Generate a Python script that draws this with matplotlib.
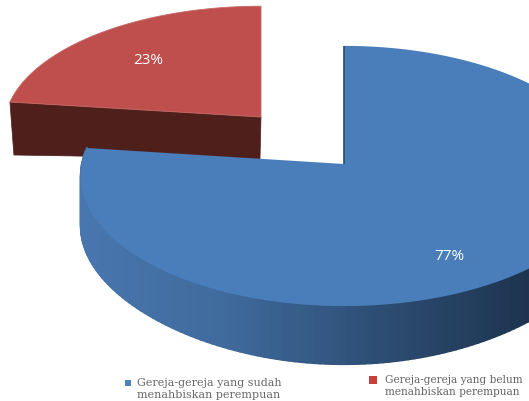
import numpy as np
import matplotlib
matplotlib.use('Agg')
import matplotlib.pyplot as plt
from matplotlib.colors import LinearSegmentedColormap
from matplotlib.collections import PolyCollection
from matplotlib.patches import Polygon

labels = ['Gereja-gereja yang sudah\nmenahbiskan perempuan',
          'Gereja-gereja yang belum\nmenahbiskan perempuan']
shares = [77, 23]
share_labels = ['77%', '23%']
top_colors = ['#4a7ebb', '#be4f4c']
marker_colors = ['#4f81bd', '#c8403a']

# fake perspective: the far side of the disc is squashed a little
TILT = 0.092


def project(theta, cx, cy, rx, ry):
    u = np.sin(theta)
    v = -np.cos(theta)
    s = 1 / (1 - TILT * v)
    return cx + rx * u * s, cy + ry * v * s, v


def slice_outline(start, stop, cx, cy, rx, ry):
    theta = np.radians(np.linspace(start, stop, 300))
    x, y, _ = project(theta, cx, cy, rx, ry)
    return np.column_stack([np.r_[cx, x], np.r_[cy, y]])


fig = plt.figure(figsize=(5.29, 4.02), dpi=100)
ax = fig.add_axes([0, 0, 1, 1])
ax.set_xlim(0, 529)
ax.set_ylim(402, 0)
ax.axis('off')

blue_deg = shares[0] / sum(shares) * 360

# red slice, pulled out to the upper left
red = slice_outline(blue_deg, 360, 261, 118, 256, 121)
red_side = np.array([red[0], red[1], red[1] + [4, 53], red[0] + [-1, 42]])
ax.add_patch(Polygon(red_side, closed=True, fc='#4f1f1c', ec='#4f1f1c', lw=0.5))
ax.add_patch(Polygon(red, closed=True, fc=top_colors[1], ec='#c96a66', lw=0.6))

# blue slice: outer wall shaded in strips from left to right
cx, cy, rx, ry = 344, 165, 262, 129
theta = np.radians(np.linspace(0, blue_deg, 220))
x, y, v = project(theta, cx, cy, rx, ry)
depth = 50 + 8 * np.clip(v, 0, 1) ** 4
wall_cmap = LinearSegmentedColormap.from_list(
    'wall', ['#4876ae', '#3f6a9c', '#2d4e74', '#1e3450'])
quads = []
shades = []
for i in range(len(theta) - 1):
    if v[i] < -0.3:
        continue
    quads.append([(x[i], y[i]), (x[i + 1], y[i + 1]),
                  (x[i + 1], y[i + 1] + depth[i + 1]), (x[i], y[i] + depth[i])])
    shades.append(wall_cmap((x[i] - 82) / 447))
ax.add_collection(PolyCollection(quads, facecolors=shades, edgecolors=shades, linewidths=1.5))

blue = slice_outline(0, blue_deg, cx, cy, rx, ry)
ax.add_patch(Polygon(blue, closed=True, fc=top_colors[0], ec='none'))
ax.plot([cx, blue[1, 0]], [cy, blue[1, 1]], color='#2b4a70', lw=1.2, solid_capstyle='butt')

ax.text(449, 256, share_labels[0], color='white', fontsize=11,
        family='Open Sans', ha='center', va='center')
ax.text(148, 60, share_labels[1], color='white', fontsize=11,
        family='Open Sans', ha='center', va='center')

# legend
ax.scatter([128], [384], marker='s', s=22, color=marker_colors[0], lw=0)
ax.text(137, 389, labels[0], fontsize=8, family='DejaVu Serif', color='#666666',
        ha='left', va='center', linespacing=1.25)
ax.scatter([373], [381], marker='s', s=26, color=marker_colors[1], lw=0)
ax.text(385, 386, labels[1], fontsize=7.6, family='DejaVu Serif', color='#666666',
        ha='left', va='center', linespacing=1.35)

fig.savefig('out.png', dpi=100)
